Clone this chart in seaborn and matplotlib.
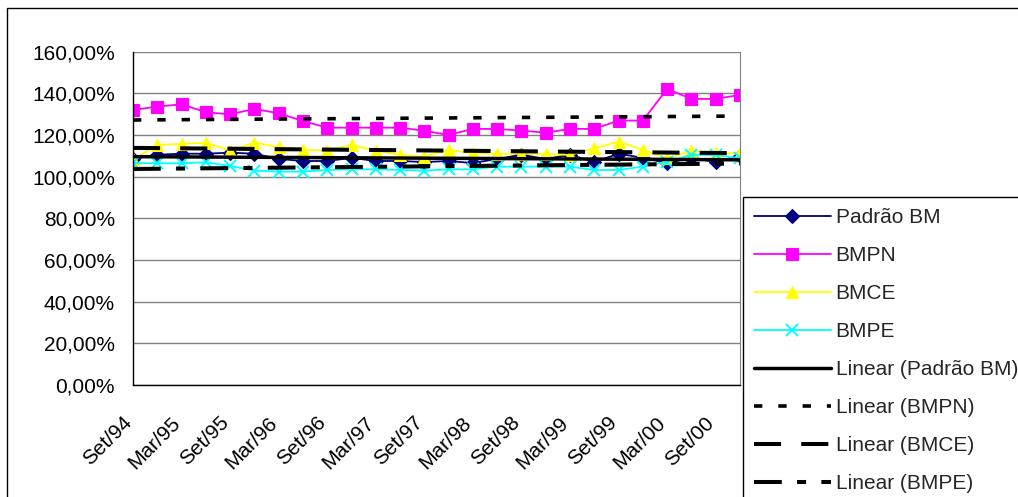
import numpy as np
import pandas as pd
import matplotlib
matplotlib.use("Agg")
import matplotlib.pyplot as plt
from matplotlib.patches import Rectangle
from matplotlib.ticker import FuncFormatter, MultipleLocator
from matplotlib.transforms import ScaledTranslation
import seaborn as sns

# Quarterly periods, Sep/1994 .. Dec/2000
quarters = ["Set/94", "Dez/94", "Mar/95", "Jun/95", "Set/95", "Dez/95",
            "Mar/96", "Jun/96", "Set/96", "Dez/96", "Mar/97", "Jun/97",
            "Set/97", "Dez/97", "Mar/98", "Jun/98", "Set/98", "Dez/98",
            "Mar/99", "Jun/99", "Set/99", "Dez/99", "Mar/00", "Jun/00",
            "Set/00", "Dez/00"]

# Values in percent
padrao_bm = [108.5, 110.5, 111.0, 111.0, 111.5, 111.0, 108.5, 107.5, 107.5,
             109.0, 107.5, 107.5, 107.0, 107.5, 106.5, 108.5, 110.5, 108.5,
             110.5, 107.0, 111.0, 109.0, 106.5, 109.0, 107.0, 110.0]
bmpn = [132.0, 133.6, 134.7, 130.9, 129.9, 132.5, 130.4, 126.7, 123.5,
        123.5, 123.5, 123.5, 122.0, 120.0, 122.9, 122.9, 122.1, 121.1,
        122.9, 122.9, 126.9, 126.9, 142.1, 137.3, 137.3, 139.2]
bmce = [108.3, 115.2, 115.7, 116.3, 112.5, 116.3, 114.2, 112.8, 112.5,
        115.2, 112.5, 110.4, 109.6, 112.8, 111.2, 111.0, 110.9, 110.9,
        110.4, 113.6, 116.8, 112.8, 108.8, 112.5, 111.2, 111.2]
bmpe = [106.5, 106.4, 106.4, 106.9, 105.1, 102.9, 102.4, 102.4, 103.2,
        103.5, 103.5, 103.2, 102.9, 103.5, 103.5, 104.8, 104.8, 104.8,
        104.8, 103.2, 103.2, 104.8, 107.2, 110.4, 110.4, 108.8]

series_names = ["Padrão BM", "BMPN", "BMCE", "BMPE"]

sns.set_style("white")
plt.rcParams["font.family"] = ["Liberation Sans", "DejaVu Sans"]
plt.rcParams["lines.scale_dashes"] = False

df = pd.DataFrame({"idx": np.arange(len(quarters)), "periodo": quarters,
                   "Padrão BM": padrao_bm, "BMPN": bmpn,
                   "BMCE": bmce, "BMPE": bmpe})

W, H = 1018, 497
fig = plt.figure(figsize=(W / 100, H / 100), dpi=100)
ax = fig.add_axes([133 / W, 1 - 385 / H, (740 - 133) / W, (385 - 51.6) / H])

styles = {
    "Padrão BM": dict(color="#000080", marker="D", markersize=7),
    "BMPN": dict(color="#FF00FF", marker="s", markersize=8.5),
    "BMCE": dict(color="#FFFF00", marker="^", markersize=9),
    "BMPE": dict(color="#00FFFF", marker="x", markersize=8, markeredgewidth=1.4),
}
for name in series_names:
    st = styles[name]
    sns.lineplot(data=df, x="idx", y=name, ax=ax, label=name,
                 color=st["color"], marker=st["marker"],
                 markersize=st["markersize"],
                 markeredgecolor=st["color"],
                 markeredgewidth=st.get("markeredgewidth", 0.8),
                 linewidth=1.3)

# Linear trendlines (least squares) for each series
trend_styles = {
    "Padrão BM": dict(lw=2.5, ls="-"),
    "BMPN": dict(lw=2.6, ls=(0, (6.0, 11.5))),
    "BMCE": dict(lw=2.9, ls=(0, (19.5, 14.5))),
    "BMPE": dict(lw=2.9, ls=(0, (20.0, 11.0, 6.5, 11.0))),
}
for name in series_names:
    ts = trend_styles[name]
    sns.regplot(data=df, x="idx", y=name, ax=ax, scatter=False, ci=None,
                truncate=True, label=f"Linear ({name})",
                line_kws=dict(color="black", linewidth=ts["lw"],
                              linestyle=ts["ls"], zorder=5))

ax.set_xlim(0, len(quarters) - 1)
ax.set_ylim(0, 160)
ax.yaxis.set_major_locator(MultipleLocator(20))
ax.yaxis.set_major_formatter(
    FuncFormatter(lambda v, p: f"{v:.2f}".replace(".", ",") + "%"))
ax.set_xticks(np.arange(0, len(quarters), 2))
ax.set_xticklabels(quarters[::2], rotation=45, ha="right", va="center",
                   rotation_mode="anchor")
ax.set_xlabel("")
ax.set_ylabel("")
ax.grid(axis="y", color="#808080", linewidth=1)
ax.set_axisbelow(True)
ax.tick_params(axis="both", which="major", labelsize=15, length=5.5,
               width=1, color="black", direction="out", labelcolor="black")
ax.tick_params(axis="x", pad=19.5)
ax.tick_params(axis="y", pad=7.5)
shift = ScaledTranslation(-4.5 / 100, 0, fig.dpi_scale_trans)
for lbl in ax.get_xticklabels():
    lbl.set_transform(lbl.get_transform() + shift)
for side in ["left", "bottom"]:
    ax.spines[side].set_color("black")
    ax.spines[side].set_linewidth(1)
ax.spines["right"].set_color("#808080")
ax.spines["top"].set_visible(False)

leg = ax.legend(loc="upper left", bbox_to_anchor=(743 / W, 1 - 197 / H),
                bbox_transform=fig.transFigure, fontsize=15, frameon=True,
                fancybox=False, shadow=False, edgecolor="black",
                framealpha=1, borderpad=0.55, labelspacing=0.91,
                handlelength=3.65, handletextpad=0.25, borderaxespad=0,
                numpoints=1)
leg.get_frame().set_linewidth(1)

# Outer chart border
fig.patches.append(Rectangle((7 / W, -0.1), 1.1, 1 - 8 / H + 0.1,
                             transform=fig.transFigure, fill=False,
                             edgecolor="black", linewidth=1))

fig.savefig("out.png", dpi=100)
